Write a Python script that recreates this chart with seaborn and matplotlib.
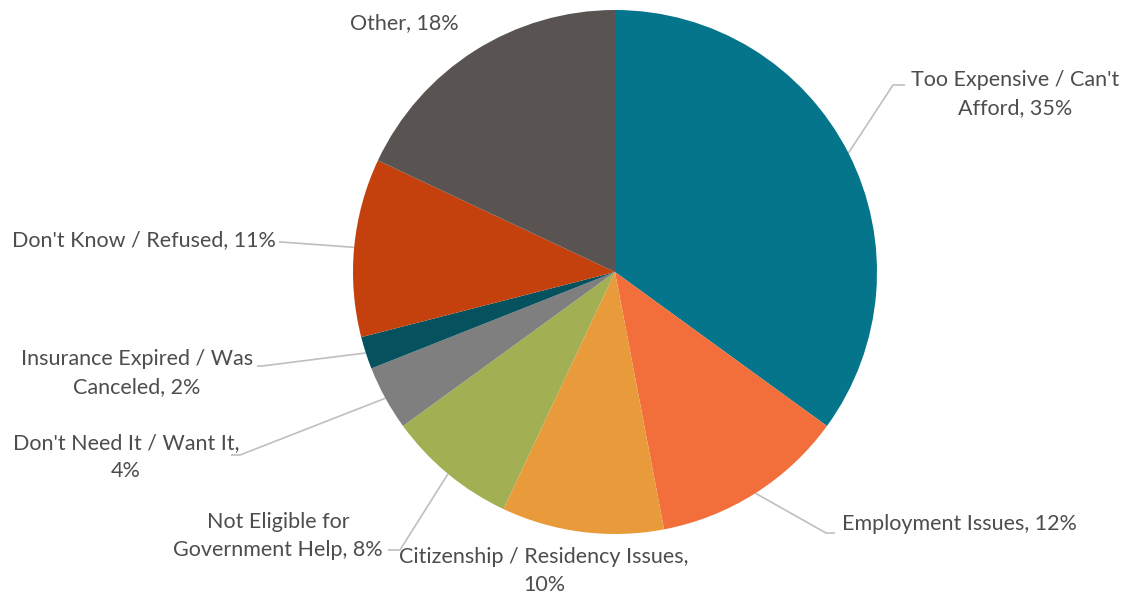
import matplotlib
matplotlib.use("Agg")
import matplotlib.pyplot as plt
import numpy as np
import seaborn as sns

# Reasons for being uninsured (share of respondents, %)
categories = [
    "Too Expensive / Can't\nAfford",
    "Employment Issues",
    "Citizenship / Residency Issues,\n",
    "Not Eligible for\nGovernment Help",
    "Don't Need It / Want It,\n",
    "Insurance Expired / Was\nCanceled",
    "Don't Know / Refused",
    "Other",
]
values = [35, 12, 10, 8, 4, 2, 11, 18]
colors = ["#04758A", "#F26F3C", "#E99B3B", "#A2AF53",
          "#7F7F7F", "#05525E", "#C4410E", "#595452"]

sns.set_theme(style="white")
plt.rcParams["font.family"] = ["Lato", "DejaVu Sans"]

W, H = 1125, 598
fig = plt.figure(figsize=(W / 100, H / 100), dpi=100)
ax = fig.add_axes([0, 0, 1, 1])


def py(y):
    """Convert a top-down pixel row to the axes' bottom-up y."""
    return H - y


cx, cy, r = 615, py(272), 262
wedges, _ = ax.pie(values, colors=colors, startangle=90, counterclock=False,
                   center=(cx, cy), radius=r, frame=True,
                   wedgeprops=dict(linewidth=0))
ax.set_xlim(0, W)
ax.set_ylim(0, H)
ax.set_aspect("equal")
ax.axis("off")


def label_text(cat, val):
    if cat.endswith("\n"):
        return f"{cat}{val}%"
    return f"{cat}, {val}%"


# label placement: (text centre x, text centre y, elbow point, end point)
label_pos = [
    (1015, 94, (893, 85), (905, 85)),
    (959, 524, (826, 533), (835, 533)),
    (544, 571, None, None),
    (278, 536, (400, 550), (388, 550)),
    (126, 457, (240, 455), (231, 455)),
    (137, 373, (262, 366), (257, 366)),
    (144, 240, (281, 242), (279, 242)),
    (404, 23, None, None),
]

text_color = "#4D4D4D"
for w, cat, val, (tx, ty, elbow, end) in zip(wedges, categories, values, label_pos):
    ax.text(tx, py(ty), label_text(cat, val), ha="center", va="center",
            fontsize=15.5, color=text_color, linespacing=1.45)
    if elbow is not None:
        mid = np.deg2rad((w.theta1 + w.theta2) / 2)
        sx, sy = cx + r * np.cos(mid), cy + r * np.sin(mid)
        ax.plot([sx, elbow[0], end[0]], [sy, py(elbow[1]), py(end[1])],
                color="#BFBFBF", lw=1.2, solid_capstyle="butt", zorder=0.5)

fig.savefig("out.png", dpi=100, facecolor="white")
